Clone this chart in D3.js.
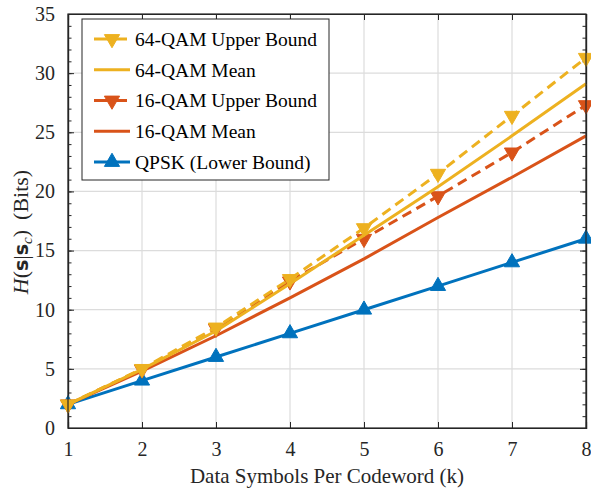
<!DOCTYPE html>
<html>
<head>
<meta charset="utf-8">
<script src="https://cdn.jsdelivr.net/npm/d3@7"></script>
<style>
  html, body { margin: 0; padding: 0; background: #fff; }
  svg { display: block; }
</style>
</head>
<body>
<svg id="chart" width="591" height="491" font-family="Liberation Serif"></svg>
<script>
// k = number of data symbols per codeword
const kValues = [1, 2, 3, 4, 5, 6, 7, 8];

// Conditional entropy H(s|s_c) in bits
const qam64Upper = [2, 5.0, 8.5, 12.6, 16.9, 21.5, 26.4, 31.3];
const qam64Mean  = [2, 4.95, 8.2, 12.2, 16.3, 20.4, 24.7, 29.1];
const qam16Upper = [2, 4.95, 8.4, 12.4, 16.0, 19.6, 23.3, 27.3];
const qam16Mean  = [2, 4.8, 7.8, 11.0, 14.3, 17.8, 21.2, 24.7];
const qpskLower  = [2, 4, 6, 8, 10, 12, 14, 16];

const xTicks = [1, 2, 3, 4, 5, 6, 7, 8];
const yTicks = [0, 5, 10, 15, 20, 25, 30, 35];
const yMinorTicks = d3.range(0, 36, 1);

const legendLabels = ["64-QAM Upper Bound", "64-QAM Mean", "16-QAM Upper Bound", "16-QAM Mean", "QPSK (Lower Bound)"];

const C_BLUE = "#0072BD", C_ORANGE = "#D95319", C_YELLOW = "#EDB120";
const SERIF = "Liberation Serif";

// series in legend order; drawOrder controls stacking
const series = [
  { name: legendLabels[0], values: qam64Upper, color: C_YELLOW, dash: "10,6", marker: "down", drawOrder: 4 },
  { name: legendLabels[1], values: qam64Mean,  color: C_YELLOW, dash: null,   marker: null,   drawOrder: 3 },
  { name: legendLabels[2], values: qam16Upper, color: C_ORANGE, dash: "10,6", marker: "down", drawOrder: 2 },
  { name: legendLabels[3], values: qam16Mean,  color: C_ORANGE, dash: null,   marker: null,   drawOrder: 1 },
  { name: legendLabels[4], values: qpskLower,  color: C_BLUE,   dash: null,   marker: "up",   drawOrder: 0 }
];

const svg = d3.select("#chart");
const m = { left: 68, right: 586, top: 14, bottom: 428 };

const x = d3.scaleLinear().domain([1, 8]).range([m.left, m.right]);
const y = d3.scaleLinear().domain([0, 35]).range([m.bottom, m.top]);

const axisColor = "#262626";
const gridColor = "#dcdcdc";

// grid
const grid = svg.append("g");
grid.selectAll("line.gx").data(xTicks.slice(1, -1)).join("line")
  .attr("x1", d => x(d)).attr("x2", d => x(d))
  .attr("y1", m.top).attr("y2", m.bottom)
  .attr("stroke", gridColor).attr("stroke-width", 1.2);
grid.selectAll("line.gy").data(yTicks.slice(1, -1)).join("line")
  .attr("x1", m.left).attr("x2", m.right)
  .attr("y1", d => y(d)).attr("y2", d => y(d))
  .attr("stroke", gridColor).attr("stroke-width", 1.2);

// axes with inward ticks on all four sides
const fontSize = 20;
const axBottom = svg.append("g").attr("transform", `translate(0,${m.bottom})`)
  .call(d3.axisBottom(x).tickValues(xTicks).tickSize(-6).tickPadding(14).tickFormat(d3.format("d")));
const axTop = svg.append("g").attr("transform", `translate(0,${m.top})`)
  .call(d3.axisTop(x).tickValues(xTicks).tickSize(-6).tickFormat(""));
const axLeft = svg.append("g").attr("transform", `translate(${m.left},0)`)
  .call(d3.axisLeft(y).tickValues(yTicks).tickSize(-6).tickPadding(13).tickFormat(d3.format("d")));
const axRight = svg.append("g").attr("transform", `translate(${m.right},0)`)
  .call(d3.axisRight(y).tickValues(yTicks).tickSize(-6).tickFormat(""));
const axLeftMinor = svg.append("g").attr("transform", `translate(${m.left},0)`)
  .call(d3.axisLeft(y).tickValues(yMinorTicks).tickSize(-3.5).tickFormat(""));
const axRightMinor = svg.append("g").attr("transform", `translate(${m.right},0)`)
  .call(d3.axisRight(y).tickValues(yMinorTicks).tickSize(-3.5).tickFormat(""));

[axBottom, axTop, axLeft, axRight, axLeftMinor, axRightMinor].forEach(g => {
  g.attr("font-family", SERIF).attr("font-size", fontSize);
  g.select(".domain").attr("stroke", axisColor).attr("stroke-width", 1.2);
  g.selectAll(".tick line").attr("stroke", axisColor).attr("stroke-width", 1);
  g.selectAll(".tick text").attr("fill", "#262626");
});

// series lines and markers
const line = d3.line().x((d, i) => x(kValues[i])).y(d => y(d));
const triSize = 100;
const upTri = d3.symbol().type(d3.symbolTriangle).size(triSize);

const plot = svg.append("g");
series.slice().sort((a, b) => a.drawOrder - b.drawOrder).forEach(s => {
  const g = plot.append("g");
  g.append("path").datum(s.values)
    .attr("d", line)
    .attr("fill", "none")
    .attr("stroke", s.color)
    .attr("stroke-width", 3)
    .attr("stroke-dasharray", s.dash)
    .attr("stroke-linejoin", "round");
  if (s.marker) {
    g.selectAll("path.mk").data(s.values).join("path")
      .attr("d", upTri)
      .attr("transform", (d, i) => `translate(${x(kValues[i])},${y(d)})` + (s.marker === "down" ? " rotate(180)" : ""))
      .attr("fill", s.color).attr("stroke", s.color).attr("stroke-width", 1);
  }
});

// box outline on top
svg.append("rect")
  .attr("x", m.left).attr("y", m.top)
  .attr("width", m.right - m.left).attr("height", m.bottom - m.top)
  .attr("fill", "none").attr("stroke", axisColor).attr("stroke-width", 1.2);

// legend
const lg = svg.append("g").attr("font-family", SERIF);
lg.append("rect")
  .attr("x", 82).attr("y", 19).attr("width", 247).attr("height", 161)
  .attr("fill", "#fff").attr("stroke", axisColor).attr("stroke-width", 1);
const legendRowY = d3.scalePoint().domain(legendLabels).range([39, 162]);
series.forEach(s => {
  const yy = legendRowY(s.name);
  lg.append("line")
    .attr("x1", 94).attr("x2", 130).attr("y1", yy).attr("y2", yy)
    .attr("stroke", s.color).attr("stroke-width", 3)
    .attr("stroke-dasharray", s.dash ? "14,5" : null);
  if (s.marker) {
    lg.append("path").attr("d", upTri)
      .attr("transform", `translate(112,${yy})` + (s.marker === "down" ? " rotate(180)" : ""))
      .attr("fill", s.color).attr("stroke", s.color);
  }
  lg.append("text")
    .attr("x", 135).attr("y", yy).attr("dy", "0.35em")
    .attr("font-size", 19.5).attr("fill", "#000")
    .text(s.name);
});

// axis titles
svg.append("text")
  .attr("x", (m.left + m.right) / 2).attr("y", 483)
  .attr("font-family", SERIF)
  .attr("text-anchor", "middle").attr("font-size", 21).attr("fill", "#262626")
  .text("Data Symbols Per Codeword (k)");

const yl = svg.append("text")
  .attr("transform", `translate(28,232) rotate(-90)`)
  .attr("font-family", SERIF)
  .attr("text-anchor", "middle").attr("font-size", 22).attr("fill", "#262626");
yl.append("tspan").attr("font-style", "italic").text("H");
yl.append("tspan").text("(");
yl.append("tspan").attr("font-weight", "bold").attr("font-family", "DejaVu Sans").attr("font-size", 19).text("s");
yl.append("tspan").text("|");
yl.append("tspan").attr("font-weight", "bold").attr("font-family", "DejaVu Sans").attr("font-size", 19).text("s");
yl.append("tspan").attr("font-style", "italic").attr("font-size", 15).attr("dy", 4).text("c");
yl.append("tspan").attr("dy", -4).text(")");
yl.append("tspan").attr("dx", 10).text("(Bits)");
</script>
</body>
</html>
